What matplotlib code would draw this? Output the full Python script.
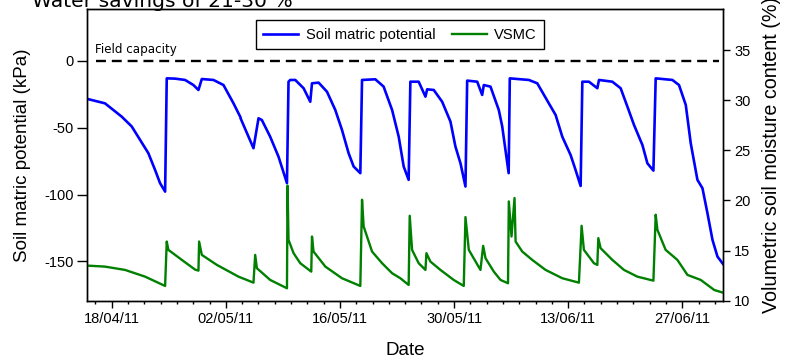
import numpy as np
import matplotlib
matplotlib.use("Agg")
import matplotlib.pyplot as plt
import matplotlib.dates as mdates
from matplotlib.ticker import FixedLocator

# days counted from 15/04/11 00:00
start = np.datetime64('2011-04-15')

smp_day = [0.0, 2.17, 4.23, 5.45, 6.47, 7.49, 8.32, 8.93, 9.55, 9.75, 10.77,
           12.0, 13.02, 13.64, 14.05, 15.48, 16.71, 17.94, 18.76, 18.8, 18.85,
           20.39, 21.01, 21.42, 22.44, 23.46, 24.50, 24.69, 24.90, 25.52,
           26.54, 27.36, 27.57, 28.38, 29.41, 30.43, 31.25, 32.06, 32.68,
           33.50, 33.71, 35.34, 36.36, 37.40, 38.21, 38.82, 39.43, 39.64,
           40.66, 41.49, 41.70, 42.51, 43.54, 44.56, 45.17, 45.79, 46.40,
           46.61, 47.84, 48.45, 48.65, 49.47, 50.49, 50.91, 51.70, 51.84,
           54.18, 55.21, 56.63, 57.46, 58.28, 59.30, 59.91, 60.53, 60.74,
           61.55, 62.58, 62.78, 64.42, 65.44, 66.27, 67.08, 68.11, 68.72,
           69.46, 69.74, 71.79, 72.60, 73.43, 74.04, 74.86, 75.48, 76.09,
           76.71, 77.32, 78.0]
smp_kpa = [-28.4, -31.7, -41.7, -49, -59, -69, -81.6, -91.5, -97.8, -13, -13.2,
           -14.2, -18, -21.7, -13.5, -14.2, -18, -31.7, -41.7, np.nan, -43.5,
           -65.3, -42.9, -44.2, -56.7, -71.6, -91.5, -15.5, -14.2, -14.2,
           -20.4, -30.5, -16.7, -16.2, -23, -36.7, -51.6, -69, -79,
           -84, -14.2, -13.7, -19.2, -36.7, -56.7, -79, -89, -15.5,
           -15.5, -26.7, -21.2, -21.7, -30.5, -45.4, -64.1, -76.6, -94,
           -14.7, -15.5, -25.4, -18, -19.2, -36.7, -49, -84, -13,
           -14.2, -16.7, -31.7, -40.4, -56.7, -70.4, -81.6, -93.6, -15.5,
           -15.5, -20.4, -14.2, -15.5, -20.4, -34.2, -47.9, -62.9, -76.6,
           -82.1, -13, -14.2, -18, -32.9, -61.6, -89, -95.3, -114,
           -134, -146.5, -152]

vsmc_day = [0.0, 2.17, 4.63, 7.09, 9.55, 9.75, 9.95, 11.6, 13.23, 13.64,
            13.72, 14.05, 15.9, 18.55, 20.39, 20.60, 20.81, 22.44, 24.50,
            24.57, 24.69, 25.31, 26.13, 27.48, 27.57, 27.76, 29.21, 31.25,
            33.50, 33.71, 33.91, 34.94, 36.17, 37.40, 38.41, 39.43, 39.56,
            39.85, 40.66, 41.49, 41.61, 42.10, 43.33, 44.96, 46.19, 46.40,
            46.81, 48.24, 48.57, 48.86, 49.88, 50.70, 51.62, 51.72, 52.05,
            52.42, 52.55, 53.37, 54.59, 56.23, 58.28, 60.32, 60.65, 60.93,
            62.16, 62.58, 62.70, 62.98, 64.42, 65.85, 67.49, 69.46, 69.74,
            69.95, 70.96, 72.40, 73.64, 75.27, 76.92, 78.0]
vsmc_pct = [13.5, 13.4, 13.07, 12.4, 11.47, 15.9, 15.07, 14.07, 13.1, 13.0,
            15.9, 14.57, 13.57, 12.4, 11.8, 14.57, 13.24, 12.07, 11.24,
            21.47, 16.07, 14.74, 13.74, 12.9, 16.4, 14.9, 13.4, 12.24,
            11.47, 20.07, 17.4, 14.9, 13.74, 12.74, 12.24, 11.57, 18.47,
            15.07, 13.74, 13.07, 14.74, 13.9, 13.07, 12.07, 11.47, 18.34,
            15.07, 13.07, 15.47, 14.24, 12.9, 12.07, 11.74, 19.9, 16.4,
            20.24, 15.9, 14.9, 14.07, 13.07, 12.24, 11.8, 17.47, 15.07,
            13.74, 13.57, 16.24, 15.24, 14.07, 13.07, 12.4, 12.0, 18.57,
            17.07, 15.07, 14.07, 12.57, 12.07, 11.07, 10.8]

date_ticks = ['2011-04-18', '2011-05-02', '2011-05-16', '2011-05-30',
              '2011-06-13', '2011-06-27']
kpa_ticks = [0, -50, -100, -150]
pct_ticks = [10, 15, 20, 25, 30, 35]

arial = 'Liberation Sans'
plt.rcParams['font.family'] = [arial, 'DejaVu Sans']
plt.rcParams['axes.unicode_minus'] = False


def to_num(days):
    t0 = mdates.date2num(start)
    return t0 + np.asarray(days, dtype=float)


fig = plt.figure(figsize=(7.87, 3.64), dpi=100)
ax = fig.add_axes([0.1109, 0.1739, 0.8078, 0.8005])
ax2 = ax.twinx()

blue, = ax.plot(to_num(smp_day), smp_kpa, color='#0000ff', lw=1.9,
                label='Soil matric potential')
green, = ax2.plot(to_num(vsmc_day), vsmc_pct, color='#008000', lw=1.7,
                  label='VSMC')

ax.axhline(0, xmin=0.013, xmax=0.993, color='black', lw=1.7,
           dashes=(4.2, 2.5))
ax.text(to_num(1.0), 5.8, 'Field capacity', family='DejaVu Sans',
        fontsize=8.6, va='baseline', ha='left')

ax.set_xlim(to_num(0), to_num(78))
ax.set_ylim(-179.5, 38.7)
ax2.set_ylim(10, 39.06)

ax.xaxis.set_major_locator(FixedLocator(mdates.datestr2num(date_ticks)))
ax.xaxis.set_minor_locator(FixedLocator(to_num(np.arange(1, 78, 2))))
ax.xaxis.set_major_formatter(mdates.DateFormatter('%d/%m/%y'))
ax.set_yticks(kpa_ticks)
ax2.set_yticks(pct_ticks)

for a in (ax, ax2):
    a.tick_params(which='major', direction='out', length=5, width=1,
                  labelsize=10.5, pad=3)
    a.tick_params(which='minor', direction='out', length=2.5, width=1)
    for s in a.spines.values():
        s.set_linewidth(1)
ax.tick_params(axis='y', length=7)

ax.set_xlabel('Date', fontsize=13.5, labelpad=12)
ax.set_ylabel('Soil matric potential (kPa)', fontsize=13.5, labelpad=9)
ax2.set_ylabel('Volumetric soil moisture content (%)', fontsize=14.2,
               labelpad=8)

leg = ax.legend(handles=[blue, green], loc='center',
                bbox_to_anchor=(0.492, 0.913), ncol=2, fontsize=10.6,
                frameon=True, fancybox=False, handlelength=2.4,
                handletextpad=0.5, columnspacing=1.1, borderpad=0.5)
leg.get_frame().set_edgecolor('black')
leg.get_frame().set_linewidth(1)
leg.get_frame().set_alpha(1)

fig.text(32 / 787, 1 - 7 / 364, 'Water savings of 21-30 %',
         family='DejaVu Sans', fontsize=14.6, va='baseline', ha='left')

fig.savefig('out.png', dpi=100)
